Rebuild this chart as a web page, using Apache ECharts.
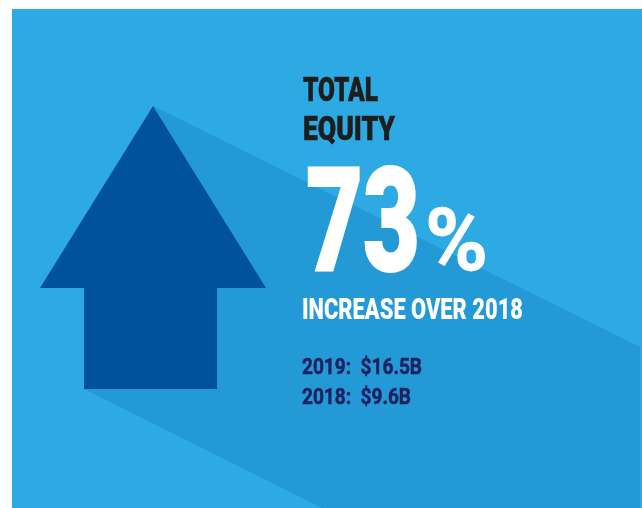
<!DOCTYPE html>
<html>
<head>
<meta charset="utf-8">
<script src="https://cdn.jsdelivr.net/npm/echarts@6/dist/echarts.min.js"></script>
<style>
html,body{margin:0;padding:0;background:#fff;}
#chart{width:642px;height:508px;}
</style>
</head>
<body>
<div id="chart"></div>
<script>
// ---- data ----
const titleWords = ['TOTAL', 'EQUITY'];
const increasePct = [73];
const compareYear = [2018];
const years = [2019, 2018];
const equityBillions = [16.5, 9.6];

// ---- helpers ----
const FONT = 'Roboto';
const mctx = document.createElement('canvas').getContext('2d');
function measure(text, size, weight) {
  mctx.font = weight + ' ' + size + 'px ' + FONT;
  return mctx.measureText(text).width;
}
// text fitted to a target box by horizontal scaling
function fitText(text, x, capTop, capBottom, width, color, weight, strokeW) {
  const size = (capBottom - capTop) / 0.711;
  const w = measure(text, size, weight);
  const sx = width / w;
  const ym = capBottom - 0.292 * size;
  return {
    type: 'text', x: x, y: ym, scaleX: sx, z: 10,
    style: {
      text: text, x: 0, y: 0, fill: color,
      stroke: strokeW ? color : null, lineWidth: strokeW || 0,
      font: weight + ' ' + size + 'px ' + FONT,
      align: 'left', verticalAlign: 'middle'
    }
  };
}

const chart = echarts.init(document.getElementById('chart'), null, {renderer: 'canvas'});

const graphics = [
  // panel
  {type: 'rect', shape: {x: 12, y: 9, width: 630, height: 499}, style: {fill: '#2DA9E3'}, z: 1},
  // long shadow
  {type: 'polygon', shape: {points: [[153, 106], [640, 347], [640, 508], [322, 508], [84, 389]]},
   style: {fill: '#2399D6'}, z: 2},
  // arrow head
  {type: 'polygon', shape: {points: [[153, 106], [266, 288], [40, 288]]}, style: {fill: '#01529C'}, z: 3},
  // arrow stem
  {type: 'rect', shape: {x: 84, y: 287, width: 133, height: 102}, style: {fill: '#01529C'}, z: 3},
  // texts
  fitText(titleWords[0], 303, 78.5, 102.5, 75, '#1D1D1B', '900', 0.6),
  fitText(titleWords[1], 303, 117, 141, 92, '#1D1D1B', '900', 0.6),
  fitText(String(increasePct[0]), 306, 174, 277, 114, '#FFFFFF', '900', 2),
  fitText('%', 425, 212, 274, 63, '#FFFFFF', 'bold', 0.8),
  fitText('INCREASE OVER ' + compareYear[0], 302, 298.5, 320, 221, '#FFFFFF', '900', 0),
  fitText(years[0] + ':  $' + equityBillions[0] + 'B', 302, 359, 375, 120, '#1F2160', 'bold', 0.5),
  fitText(years[1] + ':  $' + equityBillions[1] + 'B', 302, 389, 405, 109, '#1F2160', 'bold', 0.5)
];

chart.setOption({
  animation: false,
  backgroundColor: '#FFFFFF',
  graphic: {elements: graphics}
});
</script>
</body>
</html>
